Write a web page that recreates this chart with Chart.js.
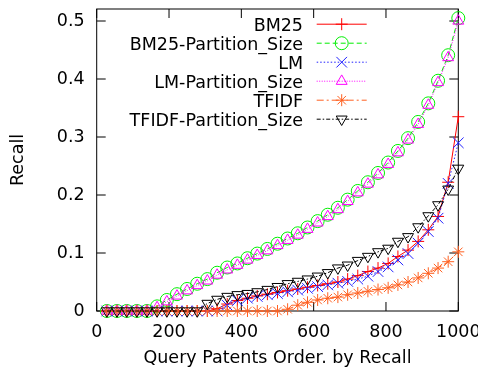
<!DOCTYPE html>
<html>
<head>
<meta charset="utf-8">
<script src="https://cdn.jsdelivr.net/npm/chart.js@4.4.0/dist/chart.umd.min.js"></script>
<style>
  html, body { margin: 0; padding: 0; background: #fff; }
</style>
</head>
<body>
<canvas id="recallChart" width="478" height="372"></canvas>
<script>
// query patents (x) where the points were sampled
const queryOrder = [28, 56, 83, 111, 139, 167, 194, 222, 250, 278, 306, 333, 361, 389, 417, 444, 472, 500,
  528, 556, 583, 611, 639, 667, 694, 722, 750, 778, 806, 833, 861, 889, 917, 944, 972, 1000];

const bm25 = [0, 0, 0, 0, 0, 0, 0, 0, 0, 0, 0, 0.004, 0.012, 0.018, 0.022, 0.026, 0.029, 0.032,
  0.035, 0.038, 0.041, 0.044, 0.047, 0.050, 0.055, 0.061, 0.068, 0.074, 0.082, 0.094, 0.105, 0.120,
  0.140, 0.163, 0.222, 0.335];
const bm25Partition = [0, 0, 0, 0, 0, 0.008, 0.019, 0.029, 0.038, 0.047, 0.055, 0.066, 0.075, 0.082,
  0.091, 0.099, 0.107, 0.116, 0.125, 0.134, 0.144, 0.155, 0.166, 0.178, 0.192, 0.207, 0.222, 0.238,
  0.256, 0.276, 0.298, 0.326, 0.358, 0.397, 0.441, 0.505];
const lm = [0, 0, 0, 0, 0, 0, 0, 0, 0, 0, 0, 0, 0.010, 0.018, 0.022, 0.025, 0.028, 0.030, 0.033,
  0.036, 0.039, 0.042, 0.045, 0.048, 0.051, 0.055, 0.060, 0.068, 0.076, 0.088, 0.099, 0.117, 0.137,
  0.160, 0.220, 0.290];
const lmPartition = [0, 0, 0, 0, 0, 0.006, 0.016, 0.026, 0.035, 0.044, 0.052, 0.062, 0.071, 0.079,
  0.088, 0.096, 0.104, 0.113, 0.122, 0.131, 0.141, 0.152, 0.163, 0.175, 0.189, 0.204, 0.219, 0.235,
  0.253, 0.273, 0.295, 0.322, 0.355, 0.394, 0.437, 0.500];
const tfidf = [0, 0, 0, 0, 0, 0, 0, 0, 0, 0, 0, 0, 0, 0, 0, 0, 0, 0, 0.003, 0.010, 0.015, 0.019,
  0.022, 0.024, 0.028, 0.031, 0.034, 0.037, 0.040, 0.045, 0.050, 0.057, 0.065, 0.074, 0.085, 0.102];
const tfidfPartition = [0, 0, 0, 0, 0, 0, 0, 0, 0, 0, 0.013, 0.020, 0.025, 0.028, 0.030, 0.033,
  0.037, 0.042, 0.047, 0.051, 0.055, 0.060, 0.066, 0.074, 0.079, 0.087, 0.094, 0.102, 0.108, 0.120,
  0.128, 0.145, 0.164, 0.183, 0.210, 0.246];

const seriesLabels = ['BM25', 'BM25-Partition_Size', 'LM', 'LM-Partition_Size', 'TFIDF', 'TFIDF-Partition_Size'];
const seriesValues = [bm25, bm25Partition, lm, lmPartition, tfidf, tfidfPartition];

// gnuplot look for each line
const looks = [
  { color: '#ff0000', dash: [], point: 'cross', radius: 6, rot: 0 },
  { color: '#00ee00', dash: [5, 3], point: 'circle', radius: 6.5, rot: 0 },
  { color: '#2020ff', dash: [1.5, 2], point: 'crossRot', radius: 7.5, rot: 0 },
  { color: '#ff00ff', dash: [1, 1.5], point: 'triangle', radius: 6.3, rot: 0 },
  { color: '#ff6020', dash: [7, 3, 2, 3], point: 'star', radius: 6, rot: 0 },
  { color: '#000000', dash: [4, 2, 1.5, 2], point: 'triangle', radius: 6.3, rot: 180 }
];

const FONT = '"DejaVu Sans", sans-serif';
const FONT_SIZE = 17.5;

const datasets = seriesLabels.map((label, i) => ({
  label: label,
  data: queryOrder.map((x, j) => ({ x: x, y: seriesValues[i][j] })),
  borderColor: looks[i].color,
  borderWidth: 1,
  borderDash: looks[i].dash,
  pointStyle: looks[i].point,
  pointRadius: looks[i].radius,
  pointRotation: looks[i].rot,
  pointBorderColor: looks[i].color,
  pointBackgroundColor: 'rgba(0,0,0,0)',
  pointBorderWidth: 1,
  tension: 0,
  fill: false,
  clip: false,
  order: seriesLabels.length - i
}));

const gnuplotFrame = {
  id: 'gnuplotFrame',
  beforeDatasetsDraw(chart) {
    const { ctx, chartArea: a, scales: { x, y } } = chart;
    ctx.save();
    ctx.strokeStyle = '#000';
    ctx.lineWidth = 1;
    ctx.beginPath();
    x.ticks.forEach(t => {
      const p = x.getPixelForValue(t.value);
      ctx.moveTo(p, a.bottom); ctx.lineTo(p, a.bottom - 9);
      ctx.moveTo(p, a.top); ctx.lineTo(p, a.top + 9);
    });
    y.ticks.forEach(t => {
      const p = y.getPixelForValue(t.value);
      ctx.moveTo(a.left, p); ctx.lineTo(a.left + 9, p);
      ctx.moveTo(a.right, p); ctx.lineTo(a.right - 9, p);
    });
    ctx.stroke();
    ctx.strokeRect(a.left, a.top, a.right - a.left, a.bottom - a.top);
    ctx.restore();
  },
  afterDatasetsDraw(chart) {
    const ctx = chart.ctx;
    ctx.save();
    chart.data.datasets.forEach((ds, i) => {
      const cy = 24.2 + 19 * i;
      ctx.fillStyle = '#000';
      ctx.font = FONT_SIZE + 'px ' + FONT;
      ctx.textAlign = 'right';
      ctx.textBaseline = 'alphabetic';
      ctx.fillText(ds.label, 303, cy + 6.4);
      ctx.strokeStyle = ds.borderColor;
      ctx.lineWidth = 1;
      ctx.setLineDash(ds.borderDash);
      ctx.beginPath();
      ctx.moveTo(316.7, cy);
      ctx.lineTo(366.7, cy);
      ctx.stroke();
      ctx.setLineDash([]);
      ctx.fillStyle = 'rgba(0,0,0,0)';
      Chart.helpers.drawPoint(ctx, {
        pointStyle: ds.pointStyle, radius: ds.pointRadius,
        rotation: ds.pointRotation, borderWidth: 1
      }, 341.7, cy);
    });
    ctx.restore();
  }
};

new Chart(document.getElementById('recallChart'), {
  type: 'line',
  data: { datasets: datasets },
  options: {
    responsive: false,
    animation: false,
    devicePixelRatio: 1,
    layout: { padding: { top: 9, right: 19.7, left: 0, bottom: 0 } },
    plugins: { legend: { display: false }, tooltip: { enabled: false } },
    scales: {
      x: {
        type: 'linear', min: 0, max: 1000,
        ticks: { stepSize: 200, padding: 11, color: '#000', maxRotation: 0,
          font: { family: FONT, size: FONT_SIZE },
          callback: v => String(v) },
        grid: { display: false, drawTicks: false },
        border: { display: false },
        title: { display: true, text: 'Query Patents Order. by Recall', color: '#000',
          font: { family: FONT, size: FONT_SIZE }, padding: { top: 0, bottom: 3 } },
        afterFit(s) { s.height = 61; s.paddingLeft = 0; s.paddingRight = 0; }
      },
      y: {
        type: 'linear', min: 0, max: 0.5207,
        ticks: { stepSize: 0.1, includeBounds: false, padding: 12, color: '#000',
          font: { family: FONT, size: FONT_SIZE },
          callback: v => String(+v.toFixed(1)) },
        grid: { display: false, drawTicks: false },
        border: { display: false },
        title: { display: true, text: 'Recall', color: '#000',
          font: { family: FONT, size: FONT_SIZE }, padding: { top: 8, bottom: 0 } },
        afterFit(s) { s.width = 96.7; s.paddingTop = 0; s.paddingBottom = 0; }
      }
    }
  },
  plugins: [gnuplotFrame]
});
</script>
</body>
</html>
